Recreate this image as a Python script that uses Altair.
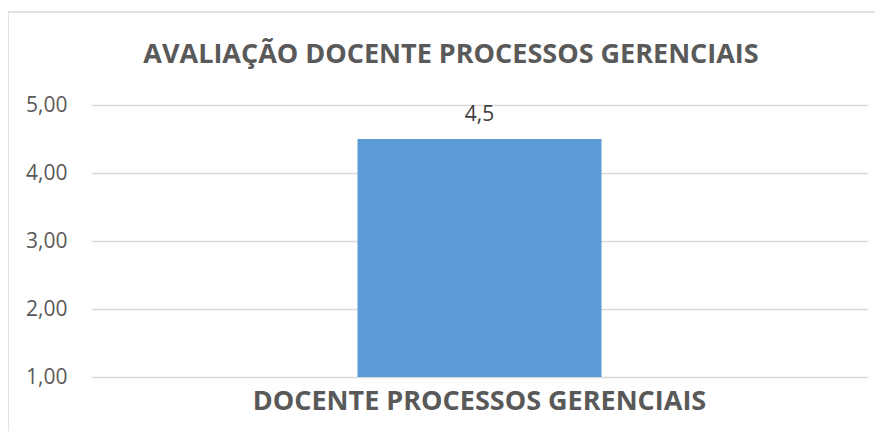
import altair as alt
import pandas as pd

title_text = "AVALIAÇÃO DOCENTE PROCESSOS GERENCIAIS"
categories = ["DOCENTE PROCESSOS GERENCIAIS"]
values = [4.5]
labels = ["4,5"]
base = [1.0]

df = pd.DataFrame({"cat": categories, "val": values, "lab": labels, "base": base})

FONT = "Open Sans"
GRAY = "#595959"

x = alt.X("cat:N", title=None,
          scale=alt.Scale(paddingInner=0, paddingOuter=0),
          axis=alt.Axis(labelAngle=0, labelFont=FONT, labelFontSize=27, labelFontWeight="bold",
                        labelColor=GRAY, domain=False, ticks=False, labelPadding=11,
                        labelBaseline="top", labelLimit=2000))
y = alt.Y("val:Q", title=None,
          scale=alt.Scale(domain=[1, 5], nice=False, zero=False),
          axis=alt.Axis(values=[1, 2, 3, 4, 5], labelFont=FONT, labelFontSize=21, labelColor=GRAY,
                        labelExpr="replace(format(datum.value, '.2f'), '.', ',')",
                        domain=False, ticks=False, labelPadding=24,
                        gridColor="#d9d9d9", gridWidth=1.3))

bars = alt.Chart(df).mark_bar(color="#5B9BD5", width=alt.RelativeBandSize(0.314)).encode(
    x=x, y=y, y2="base:Q")

text = alt.Chart(df).mark_text(font=FONT, fontSize=21, color="#404040", dy=-24, baseline="middle").encode(
    x="cat:N", y="val:Q", text="lab:N")

border = alt.Chart(pd.DataFrame({"k": [0]})).mark_rect(
    fill=None, stroke="#d9d9d9", strokeWidth=1.5).encode(
    x=alt.value(-83), x2=alt.value(900), y=alt.value(-93), y2=alt.value(500))

title = alt.Chart(pd.DataFrame({"t": [title_text]})).mark_text(
    font=FONT, fontSize=27, fontWeight="bold", color=GRAY, align="center", baseline="alphabetic").encode(
    x=alt.value(360), y=alt.value(-42), text="t:N")

chart = alt.layer(border, bars, text, title).properties(
    width=777, height=272,
    autosize=alt.AutoSizeParams(type="none"),
    padding={"left": 83, "top": 97, "right": 7, "bottom": 54},
).configure_view(stroke=None)

chart.save("out.html", embed_options={"renderer": "svg", "actions": False})
